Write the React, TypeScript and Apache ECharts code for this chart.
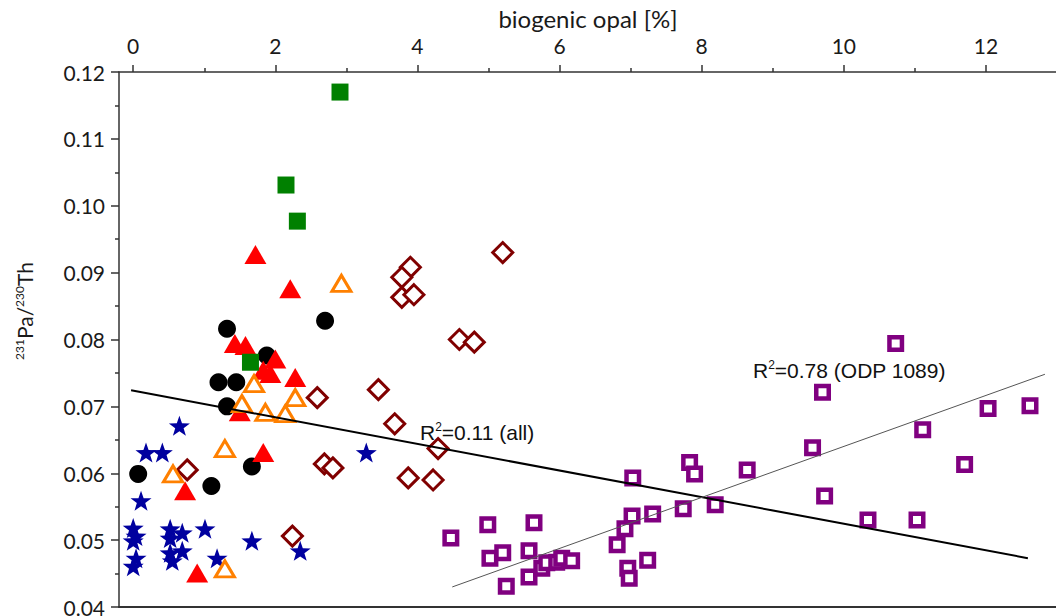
import React, { useEffect, useRef } from "react";
import * as echarts from "echarts";

// ---- data ----
const greenSquares: [number, number][] = [
  [2.91, 0.117], [2.15, 0.1031], [2.31, 0.0977], [1.65, 0.0766],
];
const redTriangles: [number, number][] = [
  [1.72, 0.0927], [2.21, 0.0876], [1.43, 0.0794], [1.58, 0.0791], [2.0, 0.0771],
  [1.83, 0.0754], [1.93, 0.0749], [2.28, 0.0743], [1.5, 0.0692], [1.83, 0.0631],
  [0.73, 0.0574], [0.9, 0.0451],
];
const blackCircles: [number, number][] = [
  [1.32, 0.0816], [2.7, 0.0828], [1.88, 0.0776], [1.2, 0.0736], [1.45, 0.0736],
  [1.32, 0.07], [0.07, 0.0599], [1.1, 0.0581], [1.67, 0.061],
];
const orangeTriangles: [number, number][] = [
  [2.93, 0.0884], [1.7, 0.0734], [1.53, 0.0704], [1.86, 0.0691], [2.14, 0.0689],
  [2.28, 0.0713], [1.29, 0.0637], [0.56, 0.0599], [1.29, 0.0457],
];
const blueStars: [number, number][] = [
  [0.65, 0.0671], [0.18, 0.0631], [0.41, 0.0631], [0.11, 0.0559], [0.0, 0.0518],
  [0.04, 0.0506], [0.0, 0.0499], [0.04, 0.0473], [0.0, 0.0461], [0.52, 0.0517],
  [0.69, 0.0511], [0.52, 0.0503], [0.52, 0.0481], [0.69, 0.0484], [0.55, 0.0469],
  [1.01, 0.0517], [1.18, 0.0473], [1.67, 0.0499], [2.35, 0.0484], [3.28, 0.0631],
];
const redDiamonds: [number, number][] = [
  [5.2, 0.093], [3.9, 0.0908], [3.78, 0.0893], [3.78, 0.0863], [3.95, 0.0867],
  [4.59, 0.08], [4.8, 0.0796], [3.45, 0.0725], [2.59, 0.0713], [3.68, 0.0674],
  [4.29, 0.0637], [2.69, 0.0614], [2.81, 0.0608], [3.87, 0.0593], [4.22, 0.059],
  [0.76, 0.0605], [2.24, 0.0506],
];
const purpleSquares: [number, number][] = [
  [4.47, 0.0503], [4.99, 0.0523], [5.64, 0.0526], [5.02, 0.0473], [5.2, 0.0481],
  [5.57, 0.0484], [5.25, 0.0431], [5.57, 0.0445], [5.75, 0.0458], [5.82, 0.0466],
  [5.96, 0.0467], [6.03, 0.0473], [6.17, 0.0469], [6.81, 0.0493], [6.92, 0.0517],
  [7.02, 0.0536], [7.03, 0.0593], [7.31, 0.0539], [6.96, 0.0458], [6.98, 0.0443],
  [7.24, 0.047], [7.74, 0.0547], [7.83, 0.0616], [7.9, 0.0599], [8.19, 0.0553],
  [8.64, 0.0605], [9.56, 0.0638], [9.7, 0.0721], [10.73, 0.0794], [9.73, 0.0566],
  [10.34, 0.053], [11.03, 0.053], [11.11, 0.0665], [11.7, 0.0613], [12.03, 0.0697],
  [12.62, 0.0701],
];
const fitAll: [number, number][] = [[-0.03, 0.0724], [12.59, 0.0473]];
const fitOdp: [number, number][] = [[4.49, 0.043], [12.83, 0.0748]];

const xMajorTicks = [0, 2, 4, 6, 8, 10, 12];
const xMinorTicks = [1, 3, 5, 7, 9, 11];

const STAR =
  "path://M0,-10L2.35,-3.24L9.51,-3.09L3.8,1.24L5.88,8.09L0,4.1L-5.88,8.09L-3.8,1.24L-9.51,-3.09L-2.35,-3.24Z";

const FONT = "Lato";
const AXIS_COLOR = "#333";
const TEXT_COLOR = "#1a1a1a";

export default function App() {
  const ref = useRef<HTMLDivElement>(null);
  useEffect(() => {
    document.body.style.margin = "0";
    if (!ref.current) return;
    const chart = echarts.init(ref.current, undefined, { renderer: "svg" });
    const scatter = (name: string, data: [number, number][], extra: any) => ({
      name,
      type: "scatter",
      data,
      xAxisIndex: 0,
      yAxisIndex: 0,
      ...extra,
      itemStyle: { opacity: 1, ...(extra.itemStyle || {}) },
    });
    const option: any = {
      animation: false,
      backgroundColor: "#fff",
      grid: {
        left: 119,
        top: 72,
        width: 938,
        height: 535,
        containLabel: false,
        outerBoundsMode: "none",
      },
      xAxis: [
        {
          type: "value",
          position: "top",
          min: -0.2,
          max: 13,
          name: "biogenic opal [%]",
          nameLocation: "middle",
          nameGap: 40,
          nameTextStyle: { fontFamily: FONT, fontSize: 24, color: TEXT_COLOR },
          axisLine: { show: true, onZero: false, lineStyle: { color: AXIS_COLOR, width: 1.5 } },
          axisTick: { show: true, inside: false, length: 7, customValues: xMajorTicks, lineStyle: { color: AXIS_COLOR, width: 1.5 } },
          axisLabel: { show: true, customValues: xMajorTicks, margin: 16, fontFamily: FONT, fontSize: 21, color: TEXT_COLOR },
          splitLine: { show: false },
        },
        {
          type: "value",
          position: "top",
          min: -0.2,
          max: 13,
          axisLine: { show: false },
          axisTick: { show: true, inside: false, length: 4, customValues: xMinorTicks, lineStyle: { color: AXIS_COLOR, width: 1.5 } },
          axisLabel: { show: false },
          splitLine: { show: false },
        },
        {
          type: "value",
          position: "bottom",
          min: -0.2,
          max: 13,
          axisLine: { show: true, onZero: false, lineStyle: { color: AXIS_COLOR, width: 2 } },
          axisTick: { show: false },
          axisLabel: { show: false },
          splitLine: { show: false },
        },
      ],
      yAxis: [
        {
          type: "value",
          min: 0.04,
          max: 0.12,
          interval: 0.01,
          axisLine: { show: true, onZero: false, lineStyle: { color: AXIS_COLOR, width: 1.5 } },
          axisTick: { show: true, inside: false, length: 8, lineStyle: { color: AXIS_COLOR, width: 1.5 } },
          minorTick: { show: true, splitNumber: 2, length: 4, lineStyle: { color: AXIS_COLOR, width: 1.5 } },
          axisLabel: {
            margin: 14,
            fontFamily: FONT,
            fontSize: 21,
            color: TEXT_COLOR,
            formatter: (v: number) => v.toFixed(2),
          },
          splitLine: { show: false },
        },
      ],
      series: [
        scatter("stars", blueStars, {
          symbol: STAR,
          symbolSize: 21,
          symbolKeepAspect: true,
          itemStyle: { color: "#00009f" },
          z: 2,
        }),
        scatter("diamonds", redDiamonds, {
          symbol: "diamond",
          symbolSize: 20,
          itemStyle: { color: "#fff", borderColor: "#800000", borderWidth: 3 },
          z: 3,
        }),
        scatter("circles", blackCircles, {
          symbol: "circle",
          symbolSize: 18,
          itemStyle: { color: "#000" },
          z: 4,
        }),
        scatter("redTri", redTriangles, {
          symbol: "triangle",
          symbolSize: [22, 19],
          itemStyle: { color: "#ff0000" },
          z: 5,
        }),
        scatter("green", greenSquares, {
          symbol: "rect",
          symbolSize: 17,
          itemStyle: { color: "#008000" },
          z: 6,
        }),
        scatter("orangeTri", orangeTriangles, {
          symbol: "triangle",
          symbolSize: [19, 16],
          itemStyle: { color: "#fff", borderColor: "#ff8000", borderWidth: 3 },
          z: 7,
        }),
        scatter("purple", purpleSquares, {
          symbol: "rect",
          symbolSize: 12.5,
          itemStyle: { color: "#fff", borderColor: "#800080", borderWidth: 4.5 },
          z: 8,
        }),
        {
          name: "fitAll",
          type: "line",
          data: fitAll,
          symbol: "none",
          lineStyle: { color: "#000", width: 2 },
          z: 10,
        },
        {
          name: "fitOdp",
          type: "line",
          data: fitOdp,
          symbol: "none",
          lineStyle: { color: "#555", width: 1 },
          z: 10,
        },
      ],
      graphic: [
        {
          type: "text",
          x: 24,
          y: 311,
          rotation: Math.PI / 2,
          style: {
            text: "{s|231}{m|Pa/}{s|230}{m|Th}",
            align: "center",
            verticalAlign: "middle",
            fill: TEXT_COLOR,
            rich: {
              m: { fontFamily: FONT, fontSize: 21, lineHeight: 22, fill: TEXT_COLOR, verticalAlign: "bottom" },
              s: { fontFamily: FONT, fontSize: 12, lineHeight: 12, fill: TEXT_COLOR, verticalAlign: "top" },
            },
          },
        },
        {
          type: "text",
          x: 420,
          y: 432,
          style: {
            text: "{r|R}{s|2}{r|=0.11 (all)}",
            align: "left",
            verticalAlign: "middle",
            rich: {
              r: { fontFamily: "Liberation Sans", fontSize: 21, lineHeight: 22, fill: "#111", verticalAlign: "bottom" },
              s: { fontFamily: "Liberation Sans", fontSize: 12, lineHeight: 12, fill: "#111", verticalAlign: "top" },
            },
          },
        },
        {
          type: "text",
          x: 753,
          y: 370,
          style: {
            text: "{r|R}{s|2}{r|=0.78 (ODP 1089)}",
            align: "left",
            verticalAlign: "middle",
            rich: {
              r: { fontFamily: "Liberation Sans", fontSize: 21, lineHeight: 22, fill: "#111", verticalAlign: "bottom" },
              s: { fontFamily: "Liberation Sans", fontSize: 12, lineHeight: 12, fill: "#111", verticalAlign: "top" },
            },
          },
        },
      ],
    };
    chart.setOption(option);
    return () => chart.dispose();
  }, []);
  return <div ref={ref} style={{ width: 1056, height: 616 }} />;
}
